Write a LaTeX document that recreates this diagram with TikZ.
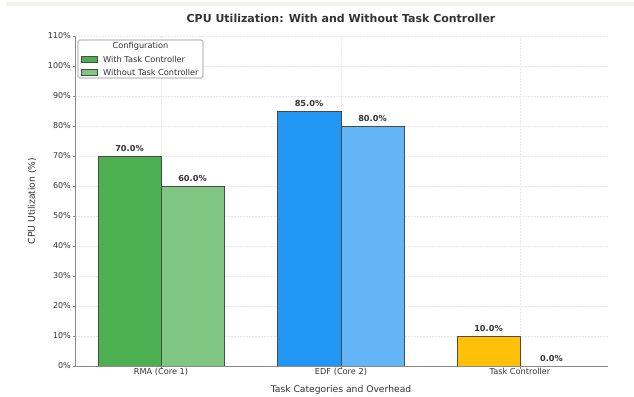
\documentclass[tikz,border=0pt]{standalone}
\usepackage{fontspec}
\setmainfont{DejaVu Sans}
\definecolor{gA}{HTML}{4CAF50}
\definecolor{gB}{HTML}{81C784}
\definecolor{bA}{HTML}{2196F3}
\definecolor{bB}{HTML}{64B5F6}
\definecolor{yA}{HTML}{FFC107}
\definecolor{txt}{HTML}{333333}
\definecolor{spine}{HTML}{8A8A8A}
\definecolor{gridc}{HTML}{E8E8E8}
\definecolor{edgec}{HTML}{4A4A4A}
\definecolor{topband}{HTML}{F2F2EC}
\tikzset{
  barbox/.style={draw=edgec, line width=0.6pt},
  vallabel/.style={font=\bfseries\fontsize{8.2}{10}\selectfont, text=txt, anchor=south, inner sep=1pt},
  ticklabel/.style={font=\fontsize{8}{10}\selectfont, text=txt, anchor=east, inner sep=1pt},
  xticklabel/.style={font=\fontsize{8.2}{10}\selectfont, text=txt, anchor=north, inner sep=1pt},
  legtext/.style={font=\fontsize{8.2}{10}\selectfont, text=txt, anchor=west, inner sep=0pt},
  gridline/.style={draw=gridc, line width=0.5pt, dash pattern=on 2pt off 1pt},
}
\begin{document}
\begin{tikzpicture}[x=1pt,y=-1pt]
\useasboundingbox (0,0) rectangle (634,396);
\fill[topband] (6,2) rectangle (634,6);
% grid
\foreach \v in {10,20,...,110} {
  \draw[gridline] (75,{366-3*\v}) -- (608,{366-3*\v});
}
\foreach \xc in {161,341,520} {
  \draw[gridline] (\xc,36) -- (\xc,366);
}
% bars
\draw[barbox, fill=gA] (98,366) rectangle (161,156);
\draw[barbox, fill=gB] (161,366) rectangle (224,186);
\draw[barbox, fill=bA] (277.5,366) rectangle (341,111);
\draw[barbox, fill=bB] (341,366) rectangle (404.5,126);
\draw[barbox, fill=yA] (457,366) rectangle (520,336);
% axes
\draw[spine, line width=0.8pt] (75,36) -- (75,366) -- (608,366);
\foreach \v in {0,10,...,110} {
  \draw[spine, line width=0.6pt] (72.5,{366-3*\v}) -- (75,{366-3*\v});
  \node[ticklabel] (yt\v) at (72,{366-3*\v}) {\v\%};
}
\foreach \xc/\nm/\lab in {161/x1/RMA (Core 1),341/x2/EDF (Core 2),520/x3/Task Controller} {
  \draw[spine, line width=0.6pt] (\xc,366) -- (\xc,368.5);
  \node[xticklabel] (\nm) at (\xc,367.5) {\lab};
}
% value labels
\node[vallabel] (v1) at (129.5,153) {70.0\%};
\node[vallabel] (v2) at (192.5,183) {60.0\%};
\node[vallabel] (v3) at (309,108) {85.0\%};
\node[vallabel] (v4) at (372.5,123) {80.0\%};
\node[vallabel] (v5) at (488.5,333) {10.0\%};
\node[vallabel] (v6) at (551.5,363) {0.0\%};
% axis titles
\node[font=\fontsize{9.2}{11}\selectfont, text=txt] (xl) at (341,389.5) {Task Categories and Overhead};
\node[font=\fontsize{9.2}{11}\selectfont, text=txt, rotate=90] (yl) at (32,201) {CPU Utilization (\%)};
\node[font=\bfseries\fontsize{11}{13}\selectfont, text=txt] (title) at (341,18) {CPU Utilization: With and Without Task Controller};
% legend
\draw[draw=spine, fill=white, line width=0.7pt, rounded corners=1.5pt] (78,40) rectangle (203,78);
\node[font=\fontsize{8.2}{10}\selectfont, text=txt] (lt) at (140.5,46.5) {Configuration};
\draw[barbox, fill=gA] (81,56.5) rectangle (97,62);
\draw[barbox, fill=gB] (81,69.5) rectangle (97,75);
\node[legtext] (l1) at (103,59.5) {With Task Controller};
\node[legtext] (l2) at (103,72.5) {Without Task Controller};
\end{tikzpicture}
\end{document}
